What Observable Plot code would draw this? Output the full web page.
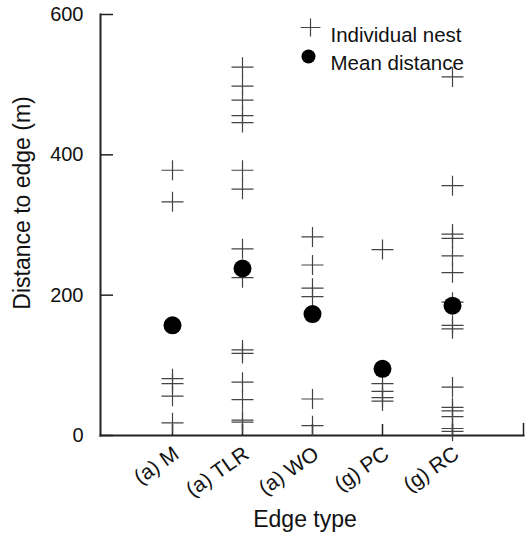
<!DOCTYPE html>
<html>
<head>
<meta charset="utf-8">
<script src="https://cdn.jsdelivr.net/npm/d3@7"></script>
<script src="https://cdn.jsdelivr.net/npm/@observablehq/plot@0.6"></script>
<style>
  html, body { margin: 0; padding: 0; background: #fff; }
</style>
</head>
<body>
<div id="chart"></div>
<script>
// ---- data ----
const categories = ["(a) M", "(a) TLR", "(a) WO", "(g) PC", "(g) RC"];
const nestM   = [378, 333, 81, 74, 56, 18];
const nestTLR = [525, 498, 478, 456, 446, 378, 351, 266, 225, 122, 117, 76, 51, 22, 19];
const nestWO  = [283, 243, 210, 198, 52, 14];
const nestPC  = [265, 74, 63, 54, 49];
const nestRC  = [511, 356, 287, 281, 256, 232, 190, 157, 152, 69, 40, 35, 27, 10, 6];
const meanDistance = [157, 238, 173, 95, 185];
const yTicks = [0, 200, 400, 600];
const yTitle = "Distance to edge (m)";
const xTitle = "Edge type";
const legendLabels = ["Individual nest", "Mean distance"];

// ---- tables for the library ----
const nestSeries = [nestM, nestTLR, nestWO, nestPC, nestRC];
const nests = categories.flatMap((c, i) => nestSeries[i].map(v => ({type: c, distance: v})));
const means = categories.map((c, i) => ({type: c, distance: meanDistance[i]}));

// thin "+" symbol
const plusSymbol = {
  draw(ctx, size) {
    const r = Math.sqrt(size / Math.PI);
    ctx.moveTo(-r * 1.1, 0); ctx.lineTo(r * 1.1, 0);
    ctx.moveTo(0, -r); ctx.lineTo(0, r);
  }
};
const tickShape = { draw(ctx, l) { ctx.moveTo(0, 0); ctx.lineTo(0, -l); } };

const font = "'Liberation Sans', Arial, Helvetica, sans-serif";
const axisColor = "#222";

const chart = Plot.plot({
  width: 525,
  height: 536,
  marginLeft: 100,
  marginRight: 2,
  marginTop: 14,
  marginBottom: 101,
  style: { fontFamily: font, fontSize: "20px", color: "#111", background: "#fff" },
  x: { type: "point", domain: categories, padding: 1 },
  y: { domain: [0, 600] },
  marks: [
    Plot.frame({ anchor: "left", stroke: axisColor, strokeWidth: 2 }),
    Plot.frame({ anchor: "bottom", stroke: axisColor, strokeWidth: 2 }),
    Plot.axisY({ ticks: yTicks, tickSize: -13, tickFormat: () => "", label: null, stroke: axisColor, strokeWidth: 1.5 }),
    Plot.axisY({ ticks: yTicks, tickSize: 0, tickPadding: 17, label: null, fontSize: 20, fill: "#111" }),
    Plot.axisX({ tickSize: -11, tickFormat: () => "", label: null, stroke: axisColor, strokeWidth: 1.5 }),
    Plot.axisX({ tickSize: 0, tickRotate: -35, tickPadding: 16, dx: 4, label: null, fontSize: 21, fill: "#111" }),
    Plot.vector([0], { frameAnchor: "bottom-right", length: 12, shape: tickShape, anchor: "start", stroke: axisColor, strokeWidth: 1.5 }),
    // individual nests
    Plot.dot(nests, { x: "type", y: "distance", symbol: plusSymbol, r: 10, fill: "none", stroke: "#444", strokeWidth: 1.2 }),
    // means
    Plot.dot(means, { x: "type", y: "distance", r: 9, fill: "#000", stroke: null }),
    // axis titles
    Plot.text([yTitle], { text: d => d, frameAnchor: "left", textAnchor: "middle", rotate: -90, dx: -78, dy: -22, fontSize: 23, fill: "#111" }),
    Plot.text([xTitle], { text: d => d, frameAnchor: "bottom", dx: -7, dy: 91, fontSize: 23, fill: "#111" }),
    // legend
    Plot.dot([legendLabels[0]], { frameAnchor: "top-left", dx: 210, dy: 13, symbol: plusSymbol, r: 9, fill: "none", stroke: "#444", strokeWidth: 1.2 }),
    Plot.dot([legendLabels[1]], { frameAnchor: "top-left", dx: 208, dy: 42, r: 7, fill: "#000", stroke: null }),
    Plot.text([legendLabels[0]], { text: d => d, frameAnchor: "top-left", dx: 230, dy: 13, textAnchor: "start", fontSize: 20.5, fill: "#111" }),
    Plot.text([legendLabels[1]], { text: d => d, frameAnchor: "top-left", dx: 230, dy: 41, textAnchor: "start", fontSize: 20.5, fill: "#111" })
  ]
});
document.getElementById("chart").appendChild(chart);
</script>
</body>
</html>
